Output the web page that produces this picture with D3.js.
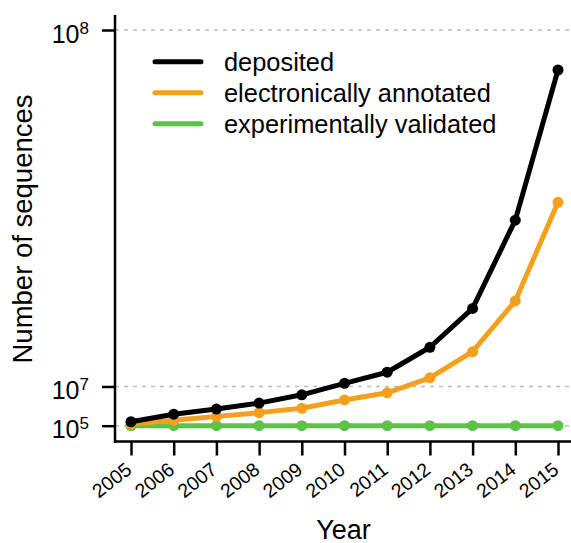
<!DOCTYPE html>
<html><head><meta charset="utf-8">
<script src="https://cdn.jsdelivr.net/npm/d3@7"></script>
<style>body{margin:0;background:#fff}text{font-family:"Liberation Sans",Arial,sans-serif;fill:#000}</style>
</head><body><svg id="c" width="571" height="543"></svg>
<script>
const years = [2005,2006,2007,2008,2009,2010,2011,2012,2013,2014,2015];
const deposited = [1.1e6,3.0e6,4.3e6,5.8e6,7.9e6,10.8e6,13.6e6,19.9e6,29.7e6,52.0e6,89.9e6];
const electronic = [0.5e6,1.5e6,2.4e6,3.4e6,4.5e6,6.6e6,8.4e6,12.2e6,18.8e6,31.6e6,56.5e6];
const experimental = [1e5,1e5,1e5,1e5,1e5,1e5,1e5,1e5,1e5,1e5,1e5];
const seriesNames = ["deposited","electronically annotated","experimentally validated"];
const colors = ["#000000","#F5A01D","#5CC24A"];
const yTicks = [1e5,1e7,1e8];
const yTickExp = ["5","7","8"];

const svg = d3.select("#c");
const x = d3.scalePoint().domain(years).range([131,558]);
const y = d3.scaleLinear().domain([1e5,1e8]).range([425.7,30]);

// grid
svg.append("g").selectAll("line").data(yTicks).join("line")
  .attr("x1",115).attr("x2",571).attr("y1",d=>y(d)).attr("y2",d=>y(d))
  .attr("stroke","#bbb").attr("stroke-width",1.5).attr("stroke-dasharray","4,5");

// series
const data = [deposited,electronic,experimental];
[2,1,0].forEach(i=>{
  const vals = data[i];
  const pts = years.map((yr,j)=>[x(yr),y(vals[j])]);
  svg.append("path").attr("d",d3.line()(pts)).attr("fill","none")
    .attr("stroke",colors[i]).attr("stroke-width",5).attr("stroke-linejoin","round");
  svg.append("g").selectAll("circle").data(pts).join("circle")
    .attr("cx",d=>d[0]).attr("cy",d=>d[1]).attr("r",5.5).attr("fill",colors[i]);
});

// axes
const xAxis = svg.append("g").attr("transform","translate(0,441.5)")
  .call(d3.axisBottom(x).tickSize(14));
xAxis.select(".domain").remove();
xAxis.append("line").attr("x1",114).attr("x2",571).attr("y1",0).attr("y2",0).attr("stroke","#000").attr("stroke-width",2.5);
xAxis.selectAll(".tick line").attr("stroke","#000").attr("stroke-width",2.5);
xAxis.selectAll(".tick text").attr("font-size",19.5).attr("text-anchor","end")
  .attr("transform","translate(1.5,30.5) rotate(-38)").attr("dy",0).attr("y",0).attr("x",0);

const yAxis = svg.append("g").attr("transform","translate(115,0)")
  .call(d3.axisLeft(y).tickValues(yTicks).tickSize(13).tickFormat(""));
yAxis.select(".domain").remove();
yAxis.append("line").attr("x1",0).attr("x2",0).attr("y1",15).attr("y2",443).attr("stroke","#000").attr("stroke-width",2.5);
yAxis.selectAll(".tick line").attr("stroke","#000").attr("stroke-width",2.5);
yAxis.selectAll(".tick").each(function(d,i){
  const t = d3.select(this).append("text").attr("x",-26).attr("y",12)
    .attr("text-anchor","end").attr("font-size",25);
  t.append("tspan").text("10");
  t.append("tspan").attr("font-size",17).attr("dy",-9).text(yTickExp[i]);
});

// titles
svg.append("text").attr("x",343.5).attr("y",538.5).attr("text-anchor","middle").attr("font-size",27).text("Year");
svg.append("text").attr("transform","translate(32,229) rotate(-90)").attr("text-anchor","middle").attr("font-size",27.5).text("Number of sequences");

// legend
seriesNames.forEach((n,i)=>{
  const yy = 61.7 + i*31;
  svg.append("line").attr("x1",155).attr("x2",201).attr("y1",yy).attr("y2",yy)
    .attr("stroke",colors[i]).attr("stroke-width",5).attr("stroke-linecap","round");
  svg.append("text").attr("x",224).attr("y",yy).attr("dy","0.35em").attr("font-size",25.4).text(n);
});
</script></body></html>
